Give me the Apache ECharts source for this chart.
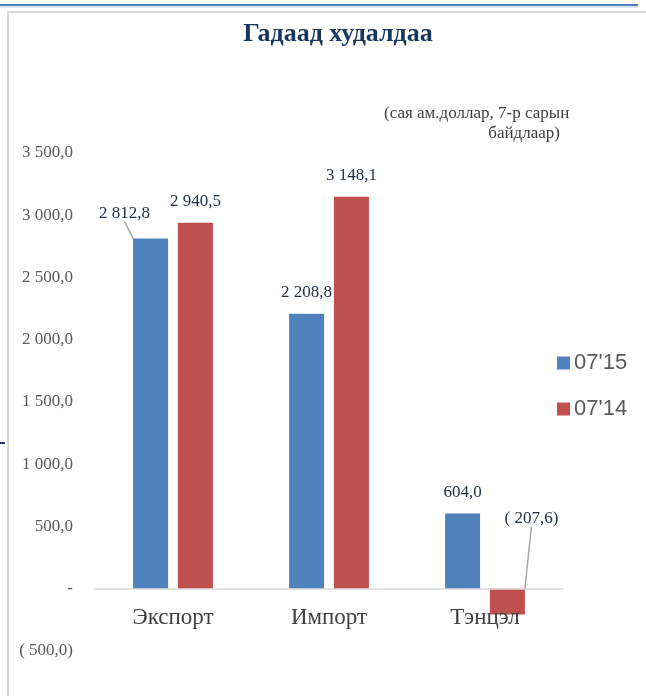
<!DOCTYPE html>
<html>
<head>
<meta charset="utf-8">
<script src="https://cdn.jsdelivr.net/npm/echarts@6/dist/echarts.min.js"></script>
<style>html,body{margin:0;padding:0;background:#fff;}#c{width:646px;height:696px;}</style>
</head>
<body>
<div id="c"></div>
<script>
const categories = ['Экспорт', 'Импорт', 'Тэнцэл'];
const series2015 = [2812.8, 2208.8, 604.0];
const series2014 = [2940.5, 3148.1, -207.6];
const seriesNames = ["07'15", "07'14"];
const yMin = -500, yMax = 3500, yStep = 500;

function fmt(v) {
  if (Math.abs(v) < 1e-9) return '-';
  const a = Math.abs(v).toFixed(1).split('.');
  const ip = a[0].replace(/\B(?=(\d{3})+(?!\d))/g, ' ');
  const s = ip + ',' + a[1];
  return v < 0 ? '( ' + s + ')' : s;
}

// labels moved away from their default top position (with leader lines)
const labelMoves = {
  '0-0': [-26, -4],
  '1-2': [24, -49]
};

function buildData(values, sIdx) {
  return values.map((v, i) => ({
    value: v,
    labelLine: { show: !!labelMoves[sIdx + '-' + i] }
  }));
}

const chart = echarts.init(document.getElementById('c'));
const serif = '"Liberation Serif", "Times New Roman", serif';
const labelCfg = { show: true, position: 'top', distance: 13, fontFamily: serif, fontSize: 17, color: '#1f2f44', formatter: p => fmt(p.value) };
const lineCfg = { show: false, lineStyle: { color: '#a6a6a6', width: 1.5 } };
const layoutFn = p => { const m = labelMoves[p.seriesIndex + '-' + p.dataIndex]; return m ? { dx: m[0], dy: m[1] } : {}; };

chart.setOption({
  animation: false,
  title: {
    text: 'Гадаад худалдаа',
    left: 333, top: 16, textAlign: 'center',
    textStyle: { fontFamily: serif, fontWeight: 'bold', fontSize: 26, color: '#17375e' }
  },
  graphic: [
    { type: 'rect', shape: { x: 8, y: 12, width: 700, height: 720 }, style: { fill: 'none', stroke: '#d9d9d9', lineWidth: 2 }, silent: true },
    { type: 'line', shape: { x1: 0, y1: 5, x2: 638, y2: 5 }, style: { stroke: '#4f81bd', lineWidth: 2 }, silent: true },
    { type: 'line', shape: { x1: 0, y1: 7, x2: 638, y2: 7 }, style: { stroke: '#b8cce4', lineWidth: 1 }, silent: true },
    { type: 'line', shape: { x1: 0, y1: 443, x2: 5, y2: 443 }, style: { stroke: '#1f3864', lineWidth: 2 }, silent: true },
    { type: 'text', left: 384, top: 105, style: { text: '(сая ам.доллар, 7-р сарын', font: '17px ' + serif, fill: '#404040' } },
    { type: 'text', right: 86, top: 125, style: { text: 'байдлаар)', font: '17px ' + serif, fill: '#404040' } }
  ],
  legend: {
    orient: 'vertical',
    left: 557, top: 352, padding: 0,
    itemWidth: 13, itemHeight: 13, itemGap: 24,
    icon: 'rect',
    textStyle: { fontFamily: '"Liberation Sans", Arial, sans-serif', fontSize: 22, color: '#595959', padding: [0, 0, 0, -1] },
    data: seriesNames
  },
  grid: { left: 95, right: 83, top: 153, bottom: 45 },
  xAxis: {
    type: 'category',
    data: categories,
    z: 10,
    axisLine: { onZero: true, lineStyle: { color: '#d9d9d9', width: 1.5 } },
    axisTick: { show: false },
    axisLabel: { margin: -45, fontFamily: serif, fontSize: 23, color: '#404040' }
  },
  yAxis: {
    type: 'value',
    min: yMin, max: yMax, interval: yStep,
    axisLine: { show: false },
    axisTick: { show: false },
    splitLine: { show: false },
    axisLabel: { margin: 22, fontFamily: serif, fontSize: 17, color: '#595959', formatter: fmt }
  },
  series: [
    {
      name: seriesNames[0], type: 'bar', data: buildData(series2015, 0),
      barWidth: 35, barGap: '28%',
      itemStyle: { color: '#4f81bd' },
      label: labelCfg, labelLine: lineCfg, labelLayout: layoutFn
    },
    {
      name: seriesNames[1], type: 'bar', data: buildData(series2014, 1),
      barWidth: 35,
      itemStyle: { color: '#c0504d' },
      label: labelCfg, labelLine: lineCfg, labelLayout: layoutFn
    }
  ]
});
</script>
</body>
</html>
